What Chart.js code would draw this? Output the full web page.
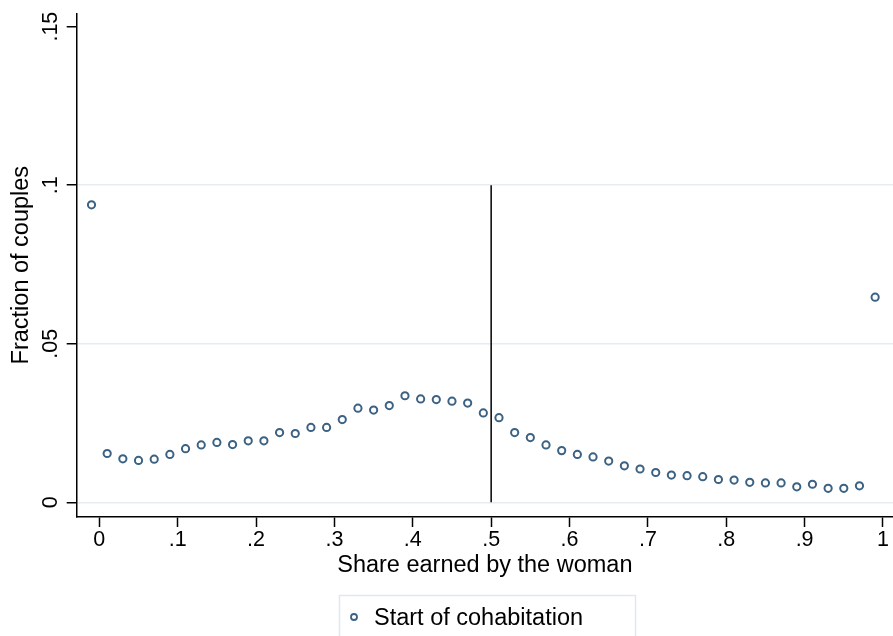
<!DOCTYPE html>
<html>
<head>
<meta charset="utf-8">
<script src="https://cdn.jsdelivr.net/npm/chart.js@4.4.1/dist/chart.umd.min.js"></script>
<style>
html,body{margin:0;padding:0;background:#fff;overflow:hidden;}
#wrap{width:893px;height:636px;position:relative;}
</style>
</head>
<body>
<div id="wrap"><canvas id="c"></canvas></div>
<script>
// ---- data ----
const shareBins = [-0.01, 0.01, 0.03, 0.05, 0.07, 0.09, 0.11, 0.13, 0.15, 0.17, 0.19,
  0.21, 0.23, 0.25, 0.27, 0.29, 0.31, 0.33, 0.35, 0.37, 0.39,
  0.41, 0.43, 0.45, 0.47, 0.49, 0.51, 0.53, 0.55, 0.57, 0.59,
  0.61, 0.63, 0.65, 0.67, 0.69, 0.71, 0.73, 0.75, 0.77, 0.79,
  0.81, 0.83, 0.85, 0.87, 0.89, 0.91, 0.93, 0.95, 0.97, 0.99];
const fractionCouples = [0.0938, 0.0154, 0.0137, 0.0132, 0.0136, 0.0151, 0.0169, 0.0181, 0.0189, 0.0182, 0.0194,
  0.0194, 0.0220, 0.0217, 0.0236, 0.0236, 0.0261, 0.0297, 0.0291, 0.0305, 0.0336,
  0.0326, 0.0324, 0.0319, 0.0313, 0.0282, 0.0267, 0.0220, 0.0204, 0.0181, 0.0163,
  0.0151, 0.0143, 0.0130, 0.0115, 0.0105, 0.0094, 0.0086, 0.0084, 0.0081, 0.0072,
  0.0070, 0.0063, 0.0061, 0.0061, 0.0049, 0.0057, 0.0044, 0.0044, 0.0052, 0.0647];
const seriesLabel = 'Start of cohabitation';
const refLineX = [0.5, 0.5];
const refLineY = [0, 0.1];
const xTickValues = [0, 0.1, 0.2, 0.3, 0.4, 0.5, 0.6, 0.7, 0.8, 0.9, 1];
const xTickLabels = ['0', '.1', '.2', '.3', '.4', '.5', '.6', '.7', '.8', '.9', '1'];
const yTickValues = [0, 0.05, 0.1, 0.15];
const yTickLabels = ['0', '.05', '.1', '.15'];
const xTitle = 'Share earned by the woman';
const yTitle = 'Fraction of couples';

// ---- styling ----
const FONT = "'Liberation Sans', Arial, Helvetica, sans-serif";
const MARK = '#3b6283';
const GRID = '#e6edf1';

const pts = shareBins.map((x, i) => ({x: x, y: fractionCouples[i]}));
const refPts = refLineX.map((x, i) => ({x: x, y: refLineY[i]}));

const customPlugin = {
  id: 'stataExtras',
  afterDraw(chart) {
    const ctx = chart.ctx;
    const ys = chart.scales.y;
    ctx.save();
    // rotated y tick labels
    ctx.fillStyle = '#000';
    ctx.font = '21.5px ' + FONT;
    ctx.textAlign = 'center';
    ctx.textBaseline = 'alphabetic';
    yTickValues.forEach((v, i) => {
      const py = ys.getPixelForValue(v);
      ctx.save();
      ctx.translate(57, py);
      ctx.rotate(-Math.PI / 2);
      ctx.fillText(yTickLabels[i], 0, 0);
      ctx.restore();
    });
    // legend
    ctx.strokeStyle = '#e0e8ec';
    ctx.lineWidth = 1.5;
    ctx.strokeRect(339.5, 595.5, 296, 60);
    ctx.beginPath();
    ctx.arc(354, 617, 3, 0, Math.PI * 2);
    ctx.strokeStyle = MARK;
    ctx.lineWidth = 1.8;
    ctx.stroke();
    ctx.fillStyle = '#000';
    ctx.font = '23.5px ' + FONT;
    ctx.textAlign = 'left';
    ctx.textBaseline = 'alphabetic';
    ctx.fillText(seriesLabel, 374, 625);
    ctx.restore();
  }
};

new Chart(document.getElementById('c'), {
  type: 'scatter',
  data: {
    datasets: [
      {
        label: seriesLabel,
        data: pts,
        pointStyle: 'circle',
        pointRadius: 3.6,
        pointBorderWidth: 2,
        pointBorderColor: MARK,
        pointBackgroundColor: 'rgba(255,255,255,0)',
        showLine: false
      },
      {
        label: 'ref',
        type: 'line',
        data: refPts,
        borderColor: '#000',
        borderWidth: 1.5,
        pointRadius: 0,
        fill: false
      }
    ]
  },
  options: {
    responsive: true,
    maintainAspectRatio: false,
    devicePixelRatio: 1,
    animation: false,
    layout: {autoPadding: false, padding: {top: 13.3, right: 0, bottom: 0, left: 0}},
    plugins: {legend: {display: false}, tooltip: {enabled: false}},
    scales: {
      x: {
        type: 'linear',
        min: -0.0289,
        max: 1.0128,
        afterBuildTicks: (s) => { s.ticks = xTickValues.map(v => ({value: v})); },
        afterFit: (s) => { s.height = 119; s.paddingLeft = 0; s.paddingRight = 0; },
        grid: {drawOnChartArea: false, drawTicks: true, tickLength: 10, tickColor: '#000', tickWidth: 1.5},
        border: {display: true, color: '#000', width: 1.5},
        ticks: {
          autoSkip: false, maxRotation: 0, minRotation: 0, padding: 0,
          color: '#000', font: {family: FONT, size: 21.5},
          callback: (v) => { const i = xTickValues.indexOf(v); return i >= 0 ? xTickLabels[i] : ''; }
        },
        title: {display: true, text: xTitle, color: '#000', font: {family: FONT, size: 23.5}, padding: {top: 0, bottom: 56}}
      },
      y: {
        type: 'linear',
        min: -0.00463,
        max: 0.1542,
        afterBuildTicks: (s) => { s.ticks = yTickValues.map(v => ({value: v})); },
        afterFit: (s) => { s.width = 76.7; s.paddingTop = 0; s.paddingBottom = 0; },
        grid: {
          drawOnChartArea: true, drawTicks: true, tickLength: 10, tickColor: '#000', tickWidth: 1.5,
          lineWidth: 1.5,
          color: (c) => (c.tick && c.tick.value === 0.15) ? 'rgba(0,0,0,0)' : GRID
        },
        border: {display: true, color: '#000', width: 1.5},
        ticks: {display: false},
        title: {display: true, text: yTitle, color: '#000', font: {family: FONT, size: 23.5}, padding: {top: 7, bottom: 0}}
      }
    }
  },
  plugins: [customPlugin]
});
</script>
</body>
</html>
